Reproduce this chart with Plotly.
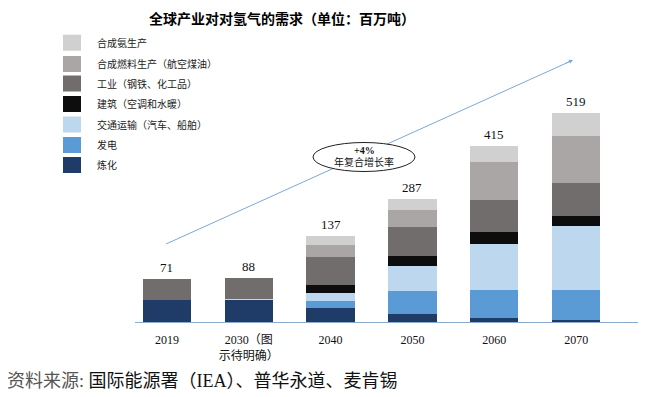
import plotly.graph_objects as go

# ---- data ----
years = ["2019", "2030（图<br>示待明确）", "2040", "2050", "2060", "2070"]
totals = [71, 88, 137, 287, 415, 519]
series_names = ["炼化", "发电", "交通运输（汽车、船舶）", "建筑（空调和水暖）",
                "工业（钢铁、化工品）", "合成燃料生产（航空煤油）", "合成氨生产"]
refining = [54, 56, 35, 21, 10, 6]
power = [0, 0, 16, 55, 70, 73]
transport = [0, 1, 21, 62, 114, 159]
building = [0, 0, 21, 26, 29, 25]
industry = [52, 53, 69, 72, 81, 81]
synfuel = [0, 0, 30, 43, 93, 118]
ammonia = [0, 0, 21, 26, 39, 58]
series_values = [refining, power, transport, building, industry, synfuel, ammonia]
colors = ["#1f3c69", "#5b9bd5", "#bdd7ee", "#0d0d0d", "#726d6d", "#aaa6a6", "#d1d0d1"]

OFF = 8  # page body margin
W, H = 646 - OFF, 397 - OFF
PL, PR, PT, PB = 135, 640, 30, 322  # plot area in page pixels
ML, MR, MT, MB = PL - OFF, OFF + W - PR, PT - OFF, OFF + H - PB
PW, PH = PR - PL, PB - PT


def px(x):
    return (x - PL) / PW


def py(y):
    return (PB - y) / PH


SERIF = "Liberation Serif, Noto Sans CJK SC, serif"
CJK = "Noto Sans CJK SC, sans-serif"

fig = go.Figure()
for name, vals, col in zip(series_names, series_values, colors):
    fig.add_trace(go.Bar(x=years, y=vals, name=name, marker=dict(color=col, line=dict(width=0)),
                         showlegend=False))

stack_tops = [sum(v[i] for v in series_values) for i in range(len(years))]
annotations = []
for i, (top, tot) in enumerate(zip(stack_tops, totals)):
    annotations.append(dict(x=i, y=top, xref="x", yref="y", text=str(tot), showarrow=False,
                            xanchor="center", yanchor="bottom", yshift=2,
                            font=dict(family=SERIF, size=13, color="#111")))

# manual legend (top to bottom)
legend_rows = [42.7, 64, 83.5, 104, 124.5, 145, 165]
for i, (name, col) in enumerate(zip(series_names[::-1], colors[::-1])):
    yc = legend_rows[i]
    fig.add_shape(type="rect", xref="paper", yref="paper", x0=px(63), x1=px(81),
                  y0=py(yc + 8), y1=py(yc - 8), fillcolor=col, line=dict(width=0))
    annotations.append(dict(x=px(95), y=py(yc), xref="paper", yref="paper", text=name,
                            showarrow=False, xanchor="left", yanchor="middle",
                            font=dict(family=SERIF, size=10, color="#222")))

# trend line + ellipse
lc = "#7fa8d4"
fig.add_shape(type="line", xref="paper", yref="paper", x0=px(166), y0=py(244), x1=px(571), y1=py(61),
              line=dict(color=lc, width=1))
annotations.append(dict(x=px(573), y=py(60), xref="paper", yref="paper", ax=-9, ay=4, text="",
                        showarrow=True, arrowhead=2, arrowsize=0.8, arrowwidth=1, arrowcolor=lc))
fig.add_shape(type="circle", xref="paper", yref="paper", x0=px(313), x1=px(415), y0=py(171.5), y1=py(142.5),
              fillcolor="white", line=dict(color="#222", width=1))
annotations.append(dict(x=px(364), y=py(150), xref="paper", yref="paper", text="<b>+4%</b>", showarrow=False,
                        xanchor="center", yanchor="middle", font=dict(family=SERIF, size=10, color="#111")))
annotations.append(dict(x=px(364), y=py(162), xref="paper", yref="paper", text="年复合增长率", showarrow=False,
                        xanchor="center", yanchor="middle", font=dict(family=SERIF, size=10, color="#111")))

# title
annotations.append(dict(x=px(282), y=py(18), xref="paper", yref="paper",
                        text="<b>全球产业对对氢气的需求（单位：百万吨）</b>", showarrow=False,
                        xanchor="center", yanchor="middle", font=dict(family=CJK, size=14, color="#000")))
# source
annotations.append(dict(x=px(5), y=py(381), xref="paper", yref="paper", xanchor="left", yanchor="middle",
                        text="<span style='color:#555'>资料来源:</span> 国际能源署（IEA）、普华永道、麦肯锡",
                        showarrow=False, font=dict(family=SERIF, size=18, color="#111")))

fig.update_layout(
    width=W, height=H, margin=dict(l=ML, r=MR, t=MT, b=MB),
    barmode="stack", bargap=0.41,
    paper_bgcolor="white", plot_bgcolor="white",
    annotations=annotations,
    xaxis=dict(type="category", range=[-0.39, 5.78], showline=True, linecolor="#8aaad0", linewidth=1,
               ticks="", ticklabelstandoff=7, showgrid=False, zeroline=False,
               tickfont=dict(family=SERIF, size=12, color="#111"), fixedrange=True),
    yaxis=dict(range=[0, PH / 0.4027], visible=False, showgrid=False, zeroline=False, fixedrange=True),
)
fig.write_html("out.html")
